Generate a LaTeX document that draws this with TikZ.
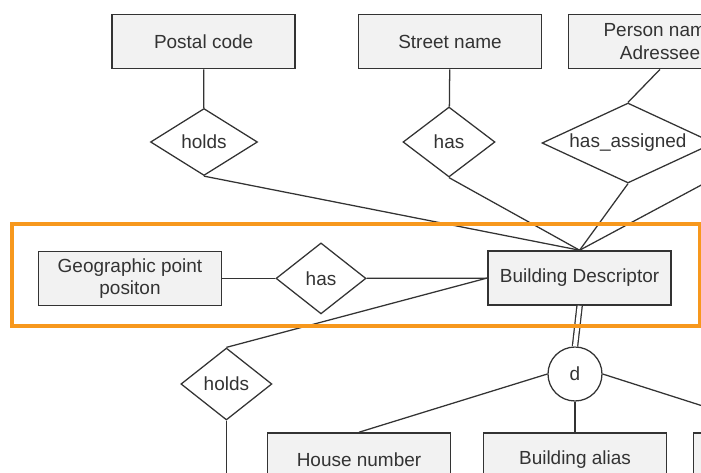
\documentclass[tikz,border=0pt]{standalone}
\usepackage{fontspec}
\setmainfont{Liberation Sans}
\usepackage{xcolor}
\usetikzlibrary{shapes,shapes.geometric,positioning}

\definecolor{boxfill}{HTML}{F2F2F2}
\definecolor{inkgray}{HTML}{333333}
\definecolor{framecol}{HTML}{F7981D}

\begin{document}
\begin{tikzpicture}[
    font=\fontsize{13.5}{16}\selectfont,
    entity/.style={rectangle, draw=inkgray, fill=boxfill, line width=1.1pt, minimum width=4.575cm, minimum height=1.35cm, align=center, text=inkgray},
    rel/.style={diamond, draw=inkgray, fill=white, line width=0.9pt, inner sep=0pt, text=inkgray},
    disj/.style={circle, draw=inkgray, fill=white, line width=0.9pt, minimum size=1.35cm, inner sep=0pt, text=inkgray},
    link/.style={draw=inkgray, line width=0.9pt}
]

\clip (0, 0) rectangle (17.525, -11.8);

% Attributes at the top
\node[entity] (postal) at (5.09, -1.04) {Postal code};
\node[entity] (street) at (11.25, -1.04) {Street name};
\node[entity] (person) at (16.5, -1.04) {Person name\\Adressee};

\node[rel, minimum width=2.675cm, minimum height=1.675cm, aspect=1.6] (holdsA) at (5.1, -3.55) {holds};
\node[rel, minimum width=2.3cm, minimum height=1.75cm, aspect=1.31] (hasA) at (11.225, -3.55) {has};
\node[rel, minimum width=4.3cm, minimum height=2cm, aspect=2.15] (assigned) at (15.7, -3.575) {has\_assigned};
\coordinate (offright) at (18.0, -4.375);

% Middle row
\node[entity] (geo) at (3.25, -6.96) {Geographic point\\positon};
\node[rel, minimum width=2.25cm, minimum height=1.775cm, aspect=1.27] (hasB) at (8.025, -6.96) {has};
\node[entity] (bd) at (14.49, -6.95) {Building Descriptor};

% Lower part
\node[rel, minimum width=2.275cm, minimum height=1.8cm, aspect=1.26] (holdsB) at (5.66, -9.6) {holds};
\coordinate (offdown) at (5.66, -12.0);
\node[disj] (d) at (14.375, -9.35) {d};
\node[entity] (house) at (8.975, -11.5) {House number};
\node[entity] (alias) at (14.375, -11.5) {Building alias};
\node[entity] (third) at (19.625, -11.5) {};

% Connections
\draw[link] (postal) -- (holdsA);
\draw[link] (street) -- (hasA);
\draw[link] (person.south) -- (assigned.north);
\draw[link] (holdsA.south) -- (bd.north);
\draw[link] (hasA.south) -- (bd.north);
\draw[link] (assigned.south) -- (bd.north);
\draw[link] (offright) -- (bd.north);
\draw[link] (geo) -- (hasB);
\draw[link] (hasB) -- (bd);
\draw[link] (bd.west) -- (holdsB.north);
\draw[link] (holdsB.south) -- (offdown);
\draw[link, double, double distance=0.1cm] (bd.south) -- (d.north);
\draw[link] (d.west) -- (house.north);
\draw[link] (d.south) -- (alias.north);
\draw[link] (d.east) -- (third.north);

% Highlight frame
\draw[framecol, line width=2.2pt] (0.3, -5.6) rectangle (17.5, -8.15);

\end{tikzpicture}
\end{document}
